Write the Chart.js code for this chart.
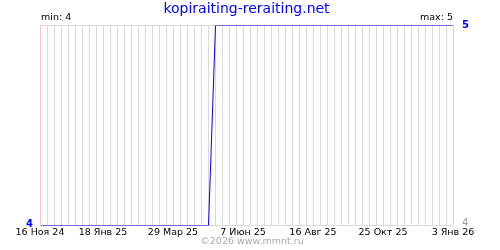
<!DOCTYPE html>
<html>
<head>
<meta charset="utf-8">
<script src="https://cdn.jsdelivr.net/npm/chart.js@4"></script>
<style>html,body{margin:0;padding:0;background:#fff}</style>
</head>
<body>
<canvas id="canvas" width="500" height="250"></canvas>
<script>
const startDate = '2024-11-16'
const endDate = '2026-01-03'
const pointDates = ['2024-11-16', '2025-05-03', '2025-05-10', '2026-01-03']
const pointValues = [4, 4, 5, 5]
const tickDates = ['2024-11-16', '2025-01-18', '2025-03-29', '2025-06-07', '2025-08-16', '2025-10-25', '2026-01-03']
const tickLabels = ['16 Ноя 24', '18 Янв 25', '29 Мар 25', '7 Июн 25', '16 Авг 25', '25 Окт 25', '3 Янв 26']
const minValue = 4
const maxValue = 5
const title = 'kopiraiting-reraiting.net'
const copyright = '©2026 www.mmnt.ru'

// дни от начала периода
const day = d => Math.round((Date.parse(d) - Date.parse(startDate)) / 86400000)
const tickDays = tickDates.map(day)

const font = 'DejaVu Sans'

const textPlugin = {
  id: 'texts',
  beforeDatasetsDraw(chart) {
    chart.ctx.save()
    chart.ctx.translate(0.5, 0.5) // чёткая линия 1px
  },
  afterDatasetsDraw(chart) {
    chart.ctx.restore()
  },
  afterDraw(chart) {
    const ctx = chart.ctx
    const area = chart.chartArea
    const y = chart.scales.y
    ctx.save()
    ctx.textBaseline = 'middle'

    ctx.font = '14px "' + font + '"'
    ctx.fillStyle = '#0000ff'
    ctx.textAlign = 'center'
    ctx.fillText(title, (area.left + area.right) / 2, 9)

    ctx.font = '9.5px "' + font + '"'
    ctx.fillStyle = '#000'
    ctx.textAlign = 'left'
    ctx.fillText('min: ' + minValue, area.left + 1, 18)
    ctx.textAlign = 'right'
    ctx.fillText('max: ' + maxValue, area.right, 18)

    ctx.font = 'bold 10px "' + font + '"'
    ctx.fillStyle = '#0000ff'
    ctx.textAlign = 'right'
    ctx.fillText(String(minValue), area.left - 7, y.getPixelForValue(minValue) - 1)
    ctx.textAlign = 'left'
    ctx.fillText(String(maxValue), area.right + 9, y.getPixelForValue(maxValue))
    ctx.font = '10px "' + font + '"'
    ctx.fillStyle = '#999'
    ctx.fillText(String(minValue), area.right + 9, y.getPixelForValue(minValue) - 2)

    ctx.font = '9.5px "' + font + '"'
    ctx.fillStyle = '#aaa'
    ctx.textAlign = 'center'
    ctx.fillText(copyright, 252, 242)
    ctx.restore()
  }
}

const data = {
  datasets: [
    {
      data: pointDates.map((d, i) => ({ x: day(d), y: pointValues[i] })),
      borderColor: '#0000ee',
      borderWidth: 1,
      pointRadius: 0,
      tension: 0,
      fill: false,
    },
  ],
}

const config = {
  type: 'line',
  data: data,
  options: {
    responsive: false,
    animation: false,
    layout: { padding: { top: 25, right: 47, left: 0, bottom: 0 } },
    plugins: {
      legend: { display: false },
      tooltip: { enabled: false },
    },
    scales: {
      x: {
        type: 'linear',
        min: 0,
        max: day(endDate),
        afterFit: s => { s.height = 25 },
        border: { display: false },
        grid: {
          drawTicks: false,
          color: c => (c.tick && tickDays.includes(c.tick.value)) ? '#ffc8c8' : '#dadada',
        },
        ticks: {
          stepSize: 7,
          maxTicksLimit: 100,
          autoSkip: false,
          maxRotation: 0,
          padding: 2,
          color: '#000',
          font: { family: font, size: 9.5 },
          callback: v => {
            const i = tickDays.indexOf(v)
            return i >= 0 ? tickLabels[i] : ''
          },
        },
      },
      y: {
        min: minValue,
        max: maxValue,
        afterFit: s => { s.width = 40 },
        border: { display: false },
        grid: { drawTicks: false, color: '#dadada' },
        ticks: { display: false, stepSize: 1 },
      },
    },
  },
  plugins: [textPlugin],
}

const canvas = document.getElementById('canvas')
const chart = new Chart(canvas, config)
</script>
</body>
</html>
